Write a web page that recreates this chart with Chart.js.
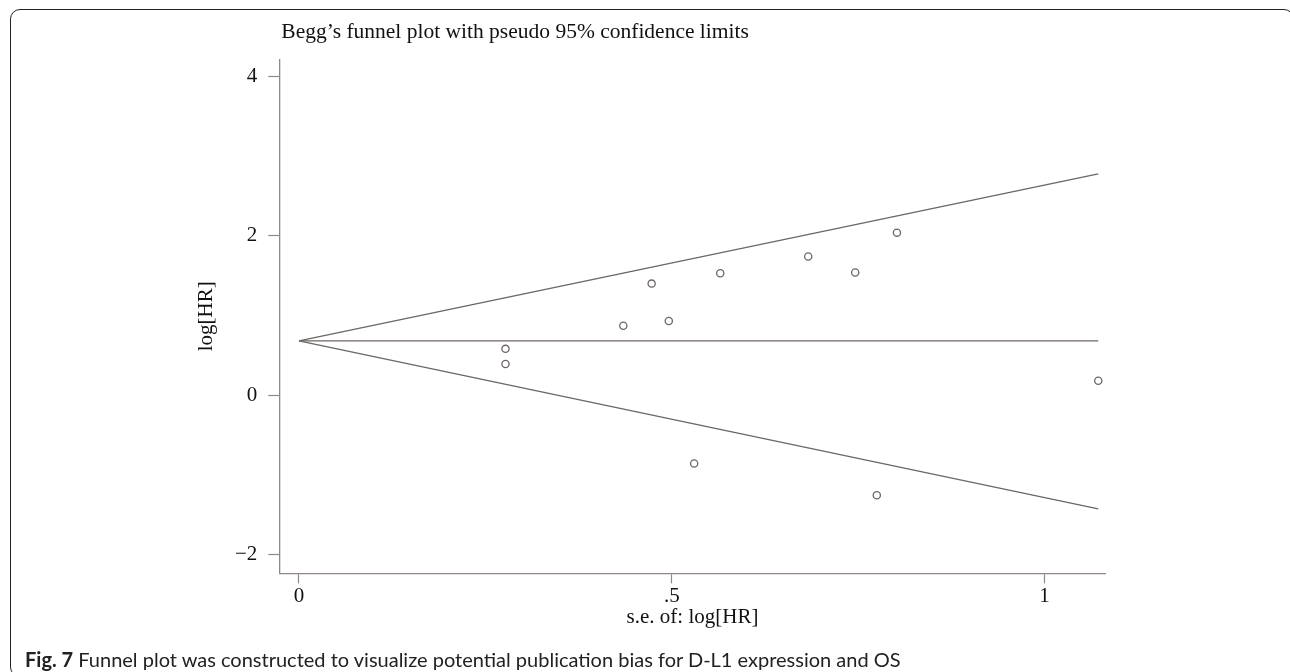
<!DOCTYPE html>
<html>
<head>
<meta charset="utf-8">
<script src="https://cdn.jsdelivr.net/npm/chart.js@4"></script>
<style>
  html, body { margin: 0; padding: 0; background: #fff; overflow: hidden; }
  body { width: 1290px; height: 672px; position: relative; }
  #frame {
    position: absolute; left: 10px; top: 9px; width: 1284px; height: 668px;
    border: 1.5px solid #222; border-radius: 10px; box-sizing: border-box;
  }
  #wrap { position: absolute; left: 0; top: 0; width: 1290px; height: 672px; }
  #caption {
    position: absolute; left: 25px; top: 647px; white-space: nowrap;
    font: 20px Lato, "Noto Sans", sans-serif; color: #222;
  }
  #caption b { font-weight: 700; }
</style>
</head>
<body>
<div id="frame"></div>
<div id="wrap"><canvas id="funnel" width="1290" height="672"></canvas></div>
<div id="caption"><b>Fig. 7</b> Funnel plot was constructed to visualize potential publication bias for D-L1 expression and OS</div>
<script>
// study points: standard error vs log hazard ratio
const seValues = [0.277, 0.277, 0.435, 0.473, 0.496, 0.530, 0.565, 0.683, 0.746, 0.775, 0.802, 1.072];
const logHR    = [0.58,  0.39,  0.87,  1.40,  0.93, -0.86,  1.53,  1.74,  1.54, -1.26,  2.04,  0.18];

// pseudo 95% confidence limits and pooled estimate (end points)
const limitSE    = [0, 1.072];
const upperLimit = [0.68, 2.78];
const lowerLimit = [0.68, -1.43];
const pooledLine = [0.68, 0.68];

const xTicks = [0, 0.5, 1];
const yTicks = [-2, 0, 2, 4];

const TITLE = 'Begg\u2019s funnel plot with pseudo 95% confidence limits';
const SERIF = '"Liberation Serif", "Times New Roman", serif';
const LINE = '#6c6664';
const AXIS = '#8f8885';

const pts = (xs, ys) => xs.map((x, i) => ({ x, y: ys[i] }));

const titlePlugin = {
    id: 'plotTitle',
    afterDraw(chart) {
        const ctx = chart.ctx;
        ctx.save();
        ctx.font = '21.5px ' + SERIF;
        ctx.fillStyle = '#111';
        ctx.textBaseline = 'middle';
        ctx.fillText(TITLE, chart.chartArea.left + 2, 32);
        ctx.restore();
    }
};

const lineSet = (data) => ({
    type: 'line', data, borderColor: LINE, borderWidth: 1.3,
    pointRadius: 0, fill: false, tension: 0
});

new Chart(document.getElementById('funnel'), {
    type: 'scatter',
    data: {
        datasets: [
            lineSet(pts(limitSE, upperLimit)),
            lineSet(pts(limitSE, lowerLimit)),
            lineSet(pts(limitSE, pooledLine)),
            {
                type: 'scatter', data: pts(seValues, logHR),
                pointStyle: 'circle', pointRadius: 3.6, borderWidth: 1.3,
                borderColor: LINE, backgroundColor: 'rgba(0,0,0,0)'
            }
        ]
    },
    options: {
        responsive: false,
        animation: false,
        clip: false,
        layout: { padding: { top: 59.3, right: 184.3, bottom: 0, left: 0 } },
        plugins: { legend: { display: false }, tooltip: { enabled: false } },
        scales: {
            x: {
                type: 'linear', min: -0.0264, max: 1.082,
                afterFit: s => { s.height = 98.7; },
                afterBuildTicks: s => { s.ticks = xTicks.map(v => ({ value: v })); },
                grid: { drawOnChartArea: false, drawTicks: true, tickLength: 10, tickColor: AXIS, tickWidth: 1.2 },
                border: { color: AXIS, width: 1.3 },
                ticks: {
                    padding: 1, color: '#111', font: { family: SERIF, size: 21 },
                    maxRotation: 0, autoSkip: false,
                    callback: v => v === 0.5 ? '.5' : String(v)
                },
                title: {
                    display: true, text: 's.e. of: log[HR]', color: '#111',
                    font: { family: SERIF, size: 21 }, padding: { top: 0, bottom: 42 }
                }
            },
            y: {
                type: 'linear', min: -2.2406, max: 4.2187,
                afterFit: s => { s.width = 279.3; },
                afterBuildTicks: s => { s.ticks = yTicks.map(v => ({ value: v })); },
                grid: { drawOnChartArea: false, drawTicks: true, tickLength: 11, tickColor: AXIS, tickWidth: 1.2 },
                border: { color: AXIS, width: 1.3 },
                ticks: {
                    padding: 11, color: '#111', font: { family: SERIF, size: 21 },
                    autoSkip: false,
                    callback: v => v < 0 ? '\u2212' + Math.abs(v) : String(v)
                },
                title: {
                    display: true, text: 'log[HR]', color: '#111',
                    font: { family: SERIF, size: 21 }, padding: { top: 194, bottom: 0 }
                }
            }
        }
    },
    plugins: [titlePlugin]
});
</script>
</body>
</html>
